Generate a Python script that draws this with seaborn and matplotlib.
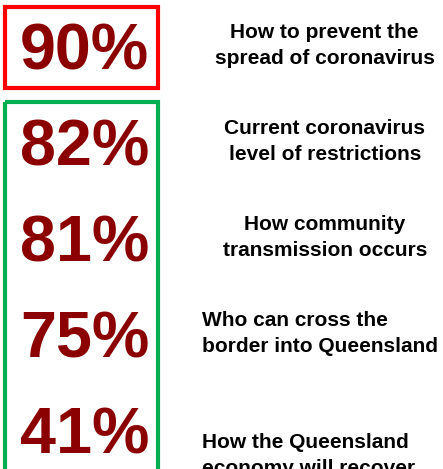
import matplotlib
matplotlib.use("Agg")
import matplotlib.pyplot as plt
from matplotlib.patches import Rectangle
import seaborn as sns

# Data
percentages = [90, 82, 81, 75, 41]
labels = [
    "How to prevent the\nspread of coronavirus",
    "Current coronavirus\nlevel of restrictions",
    "How community\ntransmission occurs",
    "Who can cross the\nborder into Queensland",
    "How the Queensland\neconomy will recover",
]
label_align = ["center", "center", "center", "left", "left"]

sns.set_theme(style="white")
plt.rcParams["font.family"] = ["Liberation Sans", "DejaVu Sans"]

fig = plt.figure(figsize=(4.43, 4.69), dpi=100)
ax = fig.add_axes([0, 0, 1, 1])
ax.set_xlim(0, 443)
ax.set_ylim(469, 0)
ax.axis("off")

num_color = "#8B0000"
row_step = 96
num_base = 69.5
label_shift = [-32, -32, -31.5, -31.5, -6]

for i, (pct, lab) in enumerate(zip(percentages, labels)):
    y = num_base + row_step * i
    ax.text(84.5, y, f"{pct}%", ha="center", va="baseline", fontsize=46.5,
            fontweight="bold", color=num_color)
    x = 324.7 if label_align[i] == "center" else 202
    for j, line in enumerate(lab.split("\n")):
        ax.text(x, y + label_shift[i] + 26 * j, line, ha=label_align[i],
                va="baseline", fontsize=15, fontweight="bold", color="black")

# boxes: red for the top item, green around the rest
ax.add_patch(Rectangle((5.3, 7.5), 153.2, 81, fill=False, edgecolor="#FF0000",
                       linewidth=3, clip_on=False))
ax.add_patch(Rectangle((5.3, 102), 153.2, 368.5, fill=False, edgecolor="#00B050",
                       linewidth=3, clip_on=False))

fig.savefig("out.png", dpi=100, facecolor="white")
